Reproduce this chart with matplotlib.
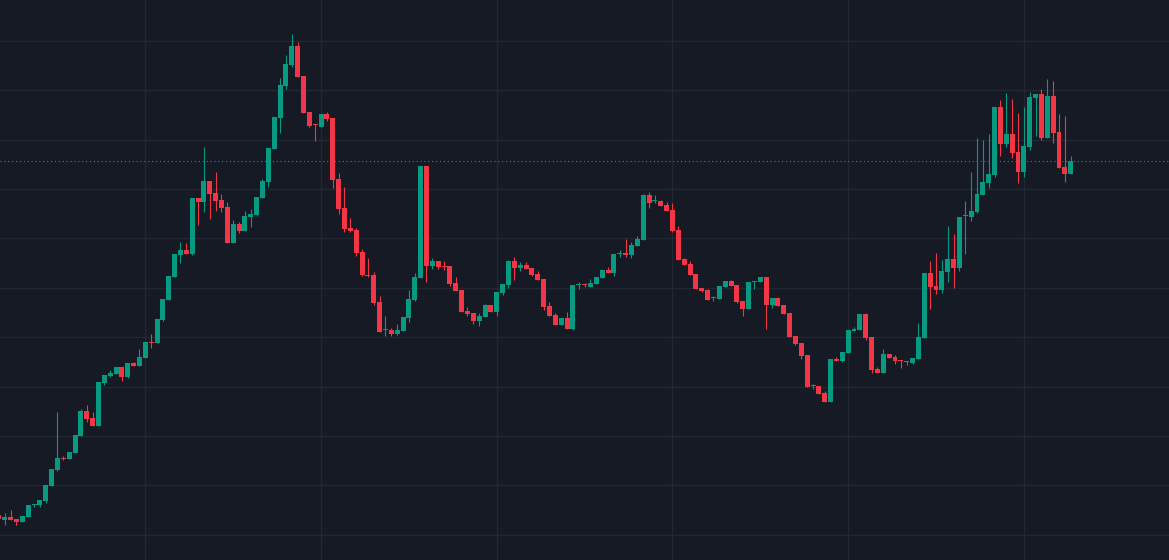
import numpy as np
import matplotlib
matplotlib.use('Agg')
import matplotlib.pyplot as plt

# Candle data (left to right), price units
opens = [
    45, 40, 43, 41, 38, 43, 55, 55, 59, 74,
    90, 102, 101, 107, 124, 149, 142, 134, 177, 184,
    186, 193, 183, 197, 194, 202, 218, 217, 240, 260,
    283, 305, 310, 306, 362, 358, 379, 367, 360, 353,
    317, 336, 329, 343, 345, 362, 378, 411, 442, 474,
    495, 514, 484, 448, 436, 433, 446, 442, 381, 352,
    332, 330, 308, 285.5, 285, 258, 230, 230, 226, 229,
    242, 260, 282, 394, 294, 299, 294.5, 294, 277, 270,
    249, 247, 239, 243, 255, 248, 267, 275, 299, 292,
    295, 292, 286, 281, 254, 245, 235, 242, 231, 275,
    275.5, 273, 276, 282, 290, 287, 306, 307, 305, 314,
    320, 365, 359, 359, 355, 350, 330, 301, 296, 286,
    272, 270, 262, 261, 273, 279, 275, 259, 251, 278.5,
    278, 283, 255, 262, 255, 247, 224, 217, 205, 174,
    174, 167, 158, 201, 199, 207, 229, 230, 246, 223,
    191, 187, 206, 203, 200.5, 199.5, 197, 201, 222, 287,
    274, 270, 288, 301, 292, 344, 343, 348, 365, 377,
    385, 453, 416, 426, 408, 388, 413, 462, 466, 422,
    464, 428, 393, 386,
]
highs = [
    45, 47, 50, 41, 44, 55, 56, 60, 75, 91,
    148, 104, 108, 125, 151, 155, 148, 178, 185, 190,
    193, 193, 197, 198, 211, 218, 226, 241, 261, 284,
    306, 318, 317, 362, 362, 413, 379, 388, 366, 358,
    340, 338, 349, 351, 363, 381, 412, 443, 482, 505,
    526, 518, 484, 448, 436, 446, 448, 442, 387, 373,
    342, 332, 311, 302, 288, 264, 244, 232, 236, 243,
    270, 287, 394, 394, 302, 299, 299, 294, 283, 270,
    253, 247, 247, 256, 255, 268, 276, 300, 303, 298,
    298, 292, 289, 281, 258, 247, 242, 248, 275, 278,
    277, 281, 283, 290, 293, 306, 310, 321, 318, 324,
    366, 368, 365, 360, 358, 357, 334, 302, 299, 286,
    272, 271, 264, 274, 279, 280, 275, 259, 278, 279.5,
    283, 283, 262, 263, 255, 247, 224, 217, 205, 176,
    174, 169, 201, 203, 208, 230, 233, 246, 247, 223,
    193, 211, 206, 205, 200.5, 199.5, 202, 237, 287, 299,
    307, 300, 334, 326, 343, 359, 388, 422, 420, 426,
    453, 460, 467, 461, 447, 453, 468, 466, 471, 481,
    479, 446, 444, 404,
]
lows = [
    41, 35, 40, 35, 38, 43, 53, 53, 57, 74,
    89, 100, 101, 107, 124, 138, 134, 134, 175, 183,
    186, 179, 182, 194, 194, 202, 212, 217, 239, 260,
    283, 297, 306, 305, 335, 348, 341, 349, 348, 317,
    317, 327, 329, 333, 344, 362, 373, 411, 427, 471,
    493, 483, 447, 433, 419, 433, 439, 372, 346, 328,
    328, 304, 284, 283, 255, 228, 224, 224, 225, 229,
    238, 259, 282, 278, 291, 291, 290, 274, 269, 248,
    244, 236, 234, 243, 248, 244, 265, 272, 280, 289,
    291, 284, 280, 250, 244, 235, 235, 231, 230, 271,
    273, 273, 276, 282, 287, 284, 303, 303, 302, 314,
    320, 352, 357, 354, 349, 328, 300, 295, 285, 271,
    268, 260, 259, 261, 273, 274, 257, 244, 251, 271,
    278, 231, 252, 254, 246, 223, 215, 201, 173, 171,
    166, 158, 158, 199, 198, 207, 229, 230, 220, 187,
    187, 187, 202, 196, 192, 195, 196, 201, 222, 251,
    266, 267, 278, 272, 289, 306, 339, 347, 365, 372,
    383, 404, 413, 402, 377, 383, 410, 424, 420, 422,
    417, 392, 378, 386,
]
closes = [
    41, 43, 40, 38, 44, 55, 56, 60, 75, 91,
    102, 101, 108, 125, 149, 141, 134, 178, 185, 187,
    193, 183, 197, 194, 203, 218, 217, 241, 261, 284,
    306, 310, 306, 362, 358, 379, 366, 359, 352, 317,
    336, 329, 344, 346, 363, 379, 412, 443, 475, 496,
    514, 483, 447, 434, 435, 446, 441, 380, 351, 331,
    329, 307, 285, 284.5, 257, 228, 231, 226, 230, 243,
    261, 283, 394, 294, 299, 293, 293.5, 276, 269, 248,
    246, 239, 244, 255, 248, 268, 276, 299, 292, 295,
    291, 285, 280, 253, 244, 235, 242, 231, 275, 276,
    275, 277, 283, 290, 287, 306, 306.5, 305, 315, 321,
    365, 357, 359.5, 354, 349, 329, 300, 295, 285, 271,
    269, 260, 262.5, 274, 279, 274, 258, 251, 278, 279.5,
    283, 255, 262, 254, 246, 223, 216, 204, 173, 174.5,
    166, 158, 201, 199, 208, 230, 231, 246, 222, 190,
    187, 206, 202, 199, 199.5, 198.5, 202, 223, 287, 273,
    270, 289, 301, 292, 343, 344.5, 349, 366, 378, 386,
    453, 416, 426, 407, 388, 414, 463, 466, 422, 464,
    427, 392, 386, 399,
]

# Horizontal grid levels and vertical grid positions (candle index)
grid_levels = [25.2 + 49.4 * k for k in range(11)]
grid_candles = [25, 55, 85, 115, 145, 175]

BG_COLOR = '#161a25'
GRID_COLOR = '#232733'
UP_COLOR = '#089981'
DOWN_COLOR = '#f23645'


def plot_candles(ax, o, h, l, c, width=0.85):
    """Draw bodies as bars and wicks as vertical lines"""
    o = np.array(o, dtype=float)
    h = np.array(h, dtype=float)
    l = np.array(l, dtype=float)
    c = np.array(c, dtype=float)
    x = np.arange(len(o))
    up = c >= o
    colors = np.where(up, UP_COLOR, DOWN_COLOR)

    ax.vlines(x, l, h, colors=colors, linewidth=0.8, zorder=2)

    bottom = np.minimum(o, c)
    height = np.maximum(np.abs(c - o), 1.0)  # keep dojis visible
    ax.bar(x, height, bottom=bottom, width=width, color=colors,
           linewidth=0, zorder=3)


def main():
    fig = plt.figure(figsize=(11.69, 5.6), dpi=100, facecolor=BG_COLOR)
    ax = fig.add_axes([0, 0, 1, 1])
    ax.set_facecolor(BG_COLOR)

    plot_candles(ax, opens, highs, lows, closes)

    # last price line
    ax.axhline(closes[-1], color=UP_COLOR, linewidth=0.8,
               linestyle=(0, (1, 2.5)), zorder=1)

    ax.set_xlim(0.19, 199.78)
    ax.set_ylim(0, 560)
    ax.set_yticks(grid_levels)
    ax.set_xticks(grid_candles)
    ax.set_axisbelow(True)
    ax.grid(True, color=GRID_COLOR, linewidth=1)
    ax.tick_params(length=0, labelleft=False, labelbottom=False)
    for s in ax.spines.values():
        s.set_visible(False)

    fig.savefig('out.png', dpi=100, facecolor=BG_COLOR)


if __name__ == '__main__':
    main()
